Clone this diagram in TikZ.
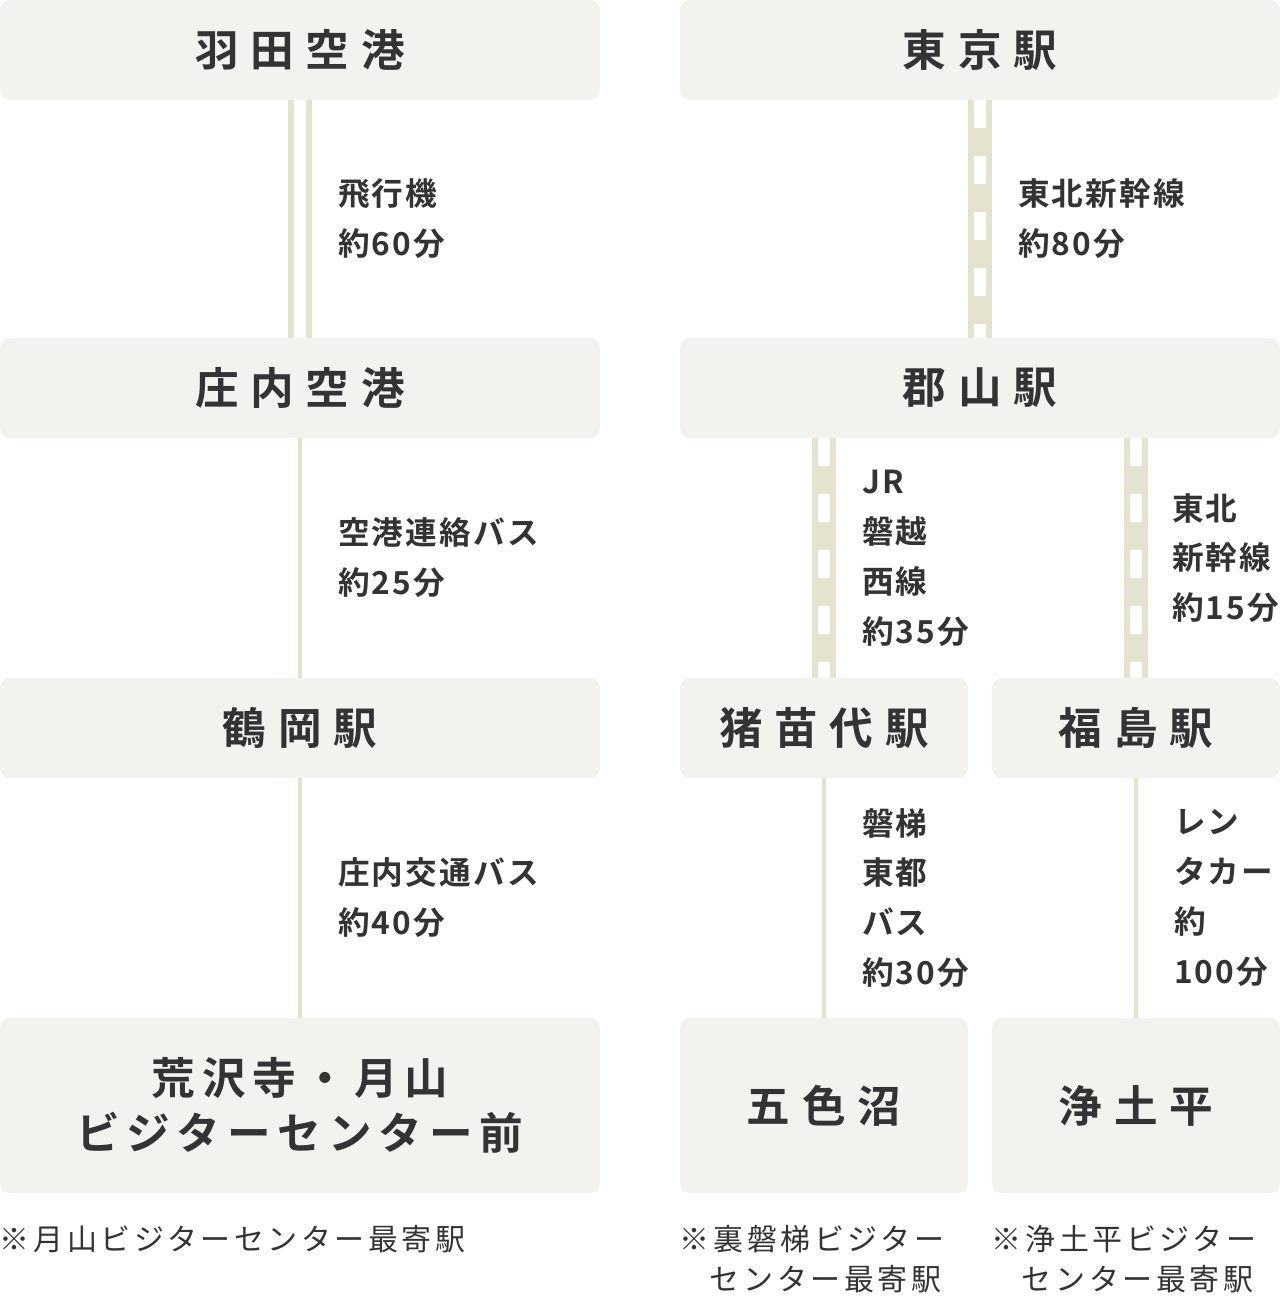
\documentclass[tikz,border=0pt]{standalone}
\usepackage{fontspec}
\newfontfamily\titlefont{Noto Sans CJK JP Bold}[LetterSpace=27]
\newfontfamily\widetitlefont{Noto Sans CJK JP Bold}[LetterSpace=16]
\newfontfamily\labelfont{Noto Sans CJK JP Bold}[LetterSpace=7]
\newfontfamily\notefont{Noto Sans CJK JP}[LetterSpace=12]
\usetikzlibrary{positioning}
\definecolor{boxgray}{RGB}{243,242,238}
\definecolor{linebeige}{RGB}{229,227,207}
\definecolor{textgray}{RGB}{51,51,51}

\begin{document}
\begin{tikzpicture}[x=0.025cm, y=-0.025cm,
  stationbox/.style={fill=boxgray, rounded corners=0.25cm, minimum width=15cm, minimum height=2.5cm, align=center, inner sep=0pt, outer sep=0pt, text=textgray, font=\titlefont\fontsize{31}{39}\selectfont},
  halfbox/.style={minimum width=7.2cm},
  tallbox/.style={minimum height=4.375cm},
  routelabel/.style={anchor=west, xshift=0.95cm, align=left, inner sep=0pt, outer sep=0pt, text=textgray, font=\labelfont\fontsize{22.5}{35.5}\selectfont},
  note/.style={anchor=north west, align=left, inner sep=0pt, outer sep=0pt, text=textgray, font=\notefont\fontsize{21.3}{28.45}\selectfont},
  busline/.style={draw=linebeige, line width=0.1cm},
  planeline/.style={draw=linebeige, line width=0.15cm, double=white, double distance=0.3cm},
  railline/.style={draw=linebeige, line width=0.6cm, postaction={draw=white, line width=0.3cm, dash pattern=on 0.7cm off 0.7cm}}
]
  \useasboundingbox (0,0) rectangle (1280,1296);

  % left column
  \node[stationbox] (haneda) at (300,50) {羽田空港};
  \node[stationbox] (shonai) at (300,388) {庄内空港};
  \node[stationbox] (tsuruoka) at (300,728) {鶴岡駅};
  \node[stationbox, tallbox, font=\widetitlefont\fontsize{31}{39}\selectfont] (arasawa) at (300,1105.5) {荒沢寺・月山\\ビジターセンター前};

  % right column
  \node[stationbox] (tokyo) at (980,50) {東京駅};
  \node[stationbox] (koriyama) at (980,388) {郡山駅};
  \node[stationbox, halfbox] (inawashiro) at (824,728) {猪苗代駅};
  \node[stationbox, halfbox] (fukushima) at (1136,728) {福島駅};
  \node[stationbox, halfbox, tallbox] (goshiki) at (824,1105.5) {五色沼};
  \node[stationbox, halfbox, tallbox] (jodo) at (1136,1105.5) {浄土平};

  % routes
  \draw[planeline] (haneda) -- (shonai) node[midway, routelabel] {飛行機\\約60分};
  \draw[busline] (shonai) -- (tsuruoka) node[midway, routelabel] {空港連絡バス\\約25分};
  \draw[busline] (tsuruoka) -- (arasawa) node[midway, routelabel] {庄内交通バス\\約40分};
  \draw[railline] (tokyo) -- (koriyama) node[midway, routelabel] {東北新幹線\\約80分};
  \draw[railline] (koriyama.south -| inawashiro) -- (inawashiro) node[midway, routelabel] {JR\\磐越\\西線\\約35分};
  \draw[railline] (koriyama.south -| fukushima) -- (fukushima) node[midway, routelabel, xshift=-0.05cm] {東北\\新幹線\\約15分};
  \draw[busline] (inawashiro) -- (goshiki) node[midway, routelabel] {磐梯\\東都\\バス\\約30分};
  \draw[busline] (fukushima) -- (jodo) node[midway, routelabel] {レン\\タカー\\約\\100分};

  % notes
  \node[note] (noteA) at ([yshift=-0.8cm]arasawa.south west) {※月山ビジターセンター最寄駅};
  \node[note] (noteB) at ([yshift=-0.8cm]goshiki.south west) {※裏磐梯ビジター\\\phantom{※}センター最寄駅};
  \node[note] (noteC) at ([yshift=-0.8cm]jodo.south west) {※浄土平ビジター\\\phantom{※}センター最寄駅};
\end{tikzpicture}
\end{document}
